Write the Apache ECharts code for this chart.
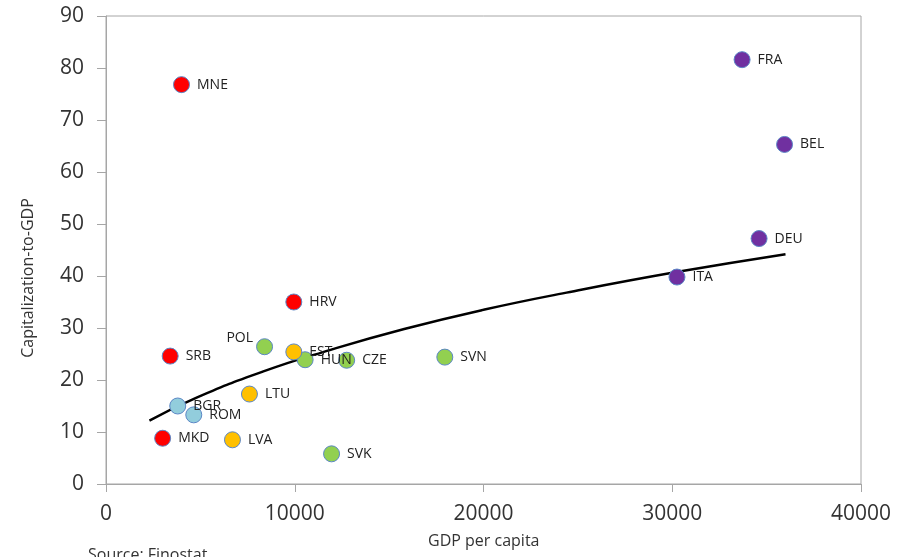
<!DOCTYPE html>
<html>
<head>
<meta charset="utf-8">
<script src="https://cdn.jsdelivr.net/npm/echarts@6/dist/echarts.min.js"></script>
<style>html,body{margin:0;padding:0;background:#fff}#c{width:913px;height:557px}</style>
</head>
<body>
<div id="c"></div>
<script>
// Data
const countries = ['MNE','SRB','MKD','HRV','FRA','BEL','DEU','ITA','POL','HUN','CZE','SVN','SVK','EST','LTU','LVA','BGR','ROM'];
const gdpPerCapita = [4000,3400,3000,9950,33700,35950,34600,30250,8400,10550,12750,17950,11950,9950,7600,6700,3800,4650];
const capToGdp = [76.8,24.6,8.8,35.0,81.6,65.3,47.2,39.8,26.4,23.9,23.8,24.4,5.8,25.4,17.3,8.5,15.0,13.3];
const groups = ['red','red','red','red','purple','purple','purple','purple','green','green','green','green','green','orange','orange','orange','blue','blue'];
const trendX = [2300,4800,8300,11900,15800,20000,24400,30300,36000];
const trendY = [12.2,16.6,21.6,25.8,29.8,33.5,36.8,40.8,44.2];
const xTicks = [0,10000,20000,30000,40000];
const yTicks = [0,10,20,30,40,50,60,70,80,90];

const groupColors = {red:'#FF0000', purple:'#7030A0', green:'#92D050', orange:'#FFC000', blue:'#92CDDC'};
const labelPos = {POL:{position:'left', offset:[4,-9]}};

function seriesFor(g){
  const data = [];
  countries.forEach((c,i)=>{
    if(groups[i]!==g) return;
    const item = {value:[gdpPerCapita[i], capToGdp[i]], name:c};
    if(labelPos[c]) item.label = labelPos[c];
    data.push(item);
  });
  return {
    type:'scatter', name:g, data, symbolSize:16, z:3,
    itemStyle:{color:groupColors[g], opacity:1, borderColor:'#5B86C5', borderWidth:1},
    emphasis:{disabled:true},
    label:{show:true, position:'right', distance:7, formatter:p=>p.name,
      fontFamily:'Open Sans', fontSize:14, color:'#222'}
  };
}

const axisFont = {fontFamily:'Open Sans', fontSize:21, color:'#333'};
const chart = echarts.init(document.getElementById('c'));
chart.setOption({
  animation:false,
  grid:{left:106, right:52, top:16, bottom:73, show:true, borderColor:'#A6A6A6', borderWidth:1},
  xAxis:{type:'value', min:xTicks[0], max:xTicks[xTicks.length-1], interval:10000,
    axisLine:{show:true, lineStyle:{color:'#A6A6A6'}},
    axisTick:{show:true, length:8, lineStyle:{color:'#A6A6A6'}},
    splitLine:{show:false},
    axisLabel:Object.assign({margin:20, formatter:v=>String(v)}, axisFont)},
  yAxis:{type:'value', min:yTicks[0], max:yTicks[yTicks.length-1], interval:10,
    axisLine:{show:true, lineStyle:{color:'#A6A6A6'}},
    axisTick:{show:true, length:9, lineStyle:{color:'#A6A6A6'}},
    splitLine:{show:false},
    axisLabel:Object.assign({margin:22, formatter:v=>String(v)}, axisFont)},
  graphic:[
    {type:'text', left:428, top:533, style:{text:'GDP per capita', font:'16px "Open Sans"', fill:'#333'}},
    {type:'text', x:28, y:278, rotation:Math.PI/2, style:{text:'Capitalization-to-GDP', font:'16px "Open Sans"', fill:'#333', align:'center', verticalAlign:'middle'}},
    {type:'text', left:88, top:547, style:{text:'Source: Finostat', font:'16px "Open Sans"', fill:'#333'}}
  ],
  series:[
    {type:'line', data:trendX.map((x,i)=>[x,trendY[i]]), smooth:true, showSymbol:false, z:2,
      lineStyle:{color:'#000', width:2.5}},
    seriesFor('red'), seriesFor('purple'), seriesFor('green'), seriesFor('orange'), seriesFor('blue')
  ]
});
</script>
</body>
</html>
